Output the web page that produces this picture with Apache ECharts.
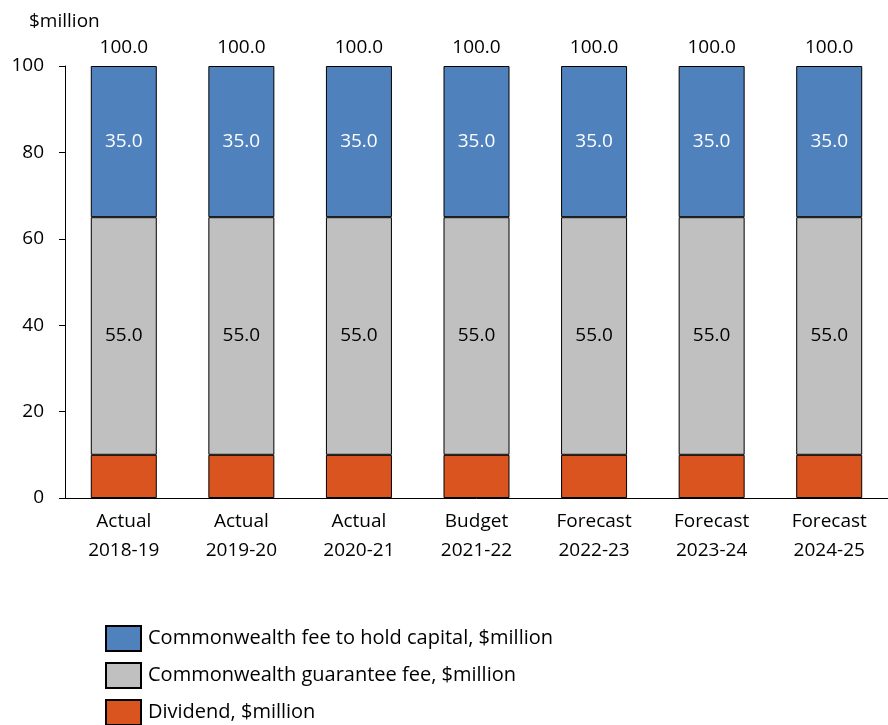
<!DOCTYPE html>
<html><head><meta charset="utf-8">
<script src="https://cdn.jsdelivr.net/npm/echarts@6/dist/echarts.min.js"></script>
<style>html,body{margin:0;padding:0;background:#fff}#c{width:888px;height:725px}</style>
</head><body><div id="c"></div>
<script>
const categories = ['Actual\n2018-19','Actual\n2019-20','Actual\n2020-21','Budget\n2021-22','Forecast\n2022-23','Forecast\n2023-24','Forecast\n2024-25'];
const dividend = [10,10,10,10,10,10,10];
const guaranteeFee = [55,55,55,55,55,55,55];
const holdCapitalFee = [35,35,35,35,35,35,35];
const totals = categories.map((_, i) => dividend[i] + guaranteeFee[i] + holdCapitalFee[i]);
const yTicks = [0,20,40,60,80,100];

const font = '"Open Sans", Arial, sans-serif';
const fs = 19;
const chart = echarts.init(document.getElementById('c'));
chart.setOption({
  animation: false,
  title: {text: '$million', left: 24, top: 7, textStyle: {fontSize: fs, fontWeight: 'normal', color: '#000', fontFamily: font}},
  grid: {left: 65, right: -10, top: 66, bottom: 227},
  legend: {
    orient: 'vertical', left: 105, top: 625, height: 110, padding: 0, itemWidth: 35, itemHeight: 25, itemGap: 10,
    icon: 'rect',
    textStyle: {fontSize: 20, color: '#000', fontFamily: font, padding: [0,0,0,2]},
    data: ['Commonwealth fee to hold capital, $million','Commonwealth guarantee fee, $million','Dividend, $million']
  },
  xAxis: {
    type: 'category', data: categories,
    axisLine: {lineStyle: {color: '#000', width: 1}},
    axisTick: {show: false},
    axisLabel: {color: '#000', fontSize: fs, lineHeight: 29, margin: 9, fontFamily: font, interval: 0}
  },
  yAxis: {
    type: 'value', min: 0, max: 100, interval: 20,
    axisLine: {show: true, lineStyle: {color: '#000'}},
    axisTick: {show: true, inside: false, length: 6, lineStyle: {color: '#000'}},
    splitLine: {show: false},
    axisLabel: {color: '#000', fontSize: fs, margin: 21, fontFamily: font,
      formatter: v => yTicks.includes(v) ? String(v) : ''}
  },
  series: [
    {name: 'Total', type: 'bar', data: totals, barWidth: 66, barGap: '-100%', z: 1, silent: true,
     itemStyle: {color: 'rgba(0,0,0,0)'},
     label: {show: true, position: 'top', distance: 9, color: '#000', fontSize: fs, fontFamily: font, formatter: p => p.value.toFixed(1)}},
    {name: 'Dividend, $million', type: 'bar', stack: 't', data: dividend, barWidth: 66, z: 3,
     itemStyle: {color: '#DA5420', borderColor: '#000', borderWidth: 1}},
    {name: 'Commonwealth guarantee fee, $million', type: 'bar', stack: 't', data: guaranteeFee, z: 3,
     itemStyle: {color: '#C0C0C0', borderColor: '#000', borderWidth: 1},
     label: {show: true, position: 'inside', color: '#000', fontSize: fs, fontFamily: font, formatter: p => p.value.toFixed(1)}},
    {name: 'Commonwealth fee to hold capital, $million', type: 'bar', stack: 't', data: holdCapitalFee, z: 3,
     itemStyle: {color: '#4F81BD', borderColor: '#000', borderWidth: 1},
     label: {show: true, position: 'inside', color: '#fff', fontSize: fs, fontFamily: font, formatter: p => p.value.toFixed(1)}}
  ]
});
</script></body></html>
